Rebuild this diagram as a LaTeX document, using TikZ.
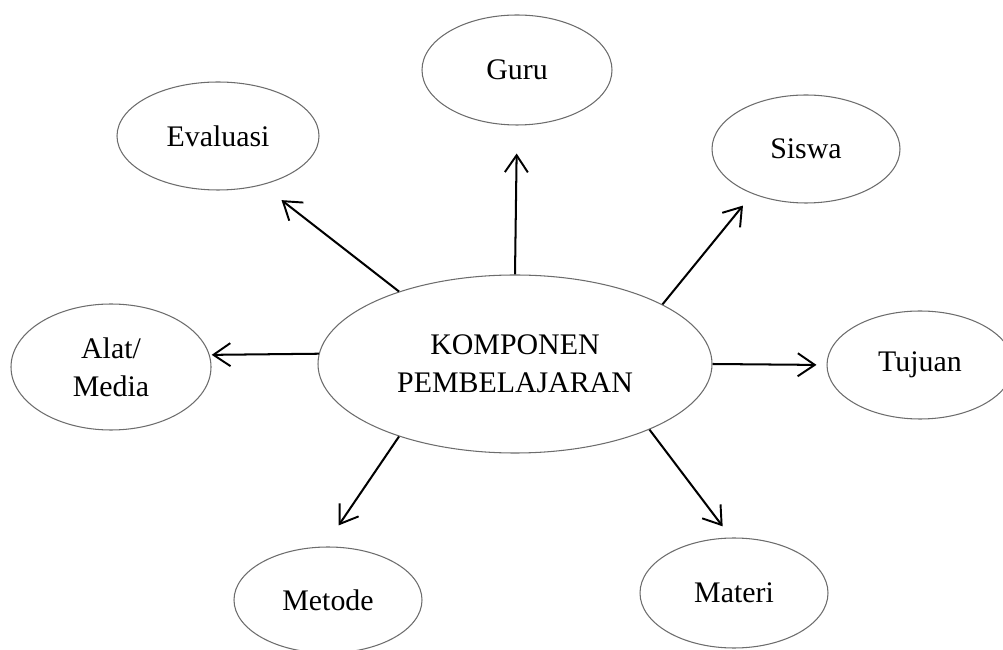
\documentclass[tikz,border=0pt]{standalone}
\usepackage{fontspec}
\setmainfont{Liberation Serif}
\usetikzlibrary{arrows.meta,shapes.geometric}
\colorlet{colorEL}{gray!85!black}
\colorlet{colorARR}{black}
\tikzset{
   every path/.style={>={Straight Barb[length=3.4mm,width=4.6mm,line width=1.1pt]}},
   komp/.style={ellipse,draw=colorEL,line width=0.6pt,inner sep=0pt,align=center,
                font=\fontsize{17}{21.6}\selectfont},
   arr/.style={->,color=colorARR,line width=1.15pt},
}

\begin{document}
\begin{tikzpicture}
      \useasboundingbox (0,0) rectangle (20.06,-13);
      \node[komp,minimum width=7.88cm,minimum height=3.56cm] (pusat) at (10.30,-7.28) {KOMPONEN\\PEMBELAJARAN};
      \node[komp,minimum width=3.80cm,minimum height=2.20cm] (guru) at (10.34,-1.40) {Guru};
      \node[komp,minimum width=4.04cm,minimum height=2.16cm] (evaluasi) at (4.36,-2.72) {Evaluasi};
      \node[komp,minimum width=3.76cm,minimum height=2.16cm] (siswa) at (16.12,-2.98) {Siswa};
      \node[komp,minimum width=4.00cm,minimum height=2.52cm] (alat) at (2.22,-7.34) {Alat/\\Media};
      \node[komp,minimum width=3.72cm,minimum height=2.16cm] (tujuan) at (18.40,-7.30) {Tujuan};
      \node[komp,minimum width=3.76cm,minimum height=2.12cm] (metode) at (6.56,-12.00) {Metode};
      \node[komp,minimum width=3.76cm,minimum height=2.20cm] (materi) at (14.68,-11.86) {Materi};
      \draw[arr,shorten >=0.56cm] (pusat.north) -- (guru.south);
      \draw[arr,shorten >=0.49cm] (pusat.148.6) -- (evaluasi.-48.8);
      \draw[arr,shorten >=0.30cm] (pusat.22.5) -- (siswa.-140.3);
      \draw[arr,shorten >=0.04cm] (pusat.177) -- (alat.7.6);
      \draw[arr,shorten >=0.20cm] (pusat.east) -- (tujuan.west);
      \draw[arr,shorten >=0.51cm] (pusat.212.4) -- (metode.94.5);
      \draw[arr,shorten >=0.28cm] (pusat.-26.2) -- (materi.93.8);
    \end{tikzpicture}
\end{document}
